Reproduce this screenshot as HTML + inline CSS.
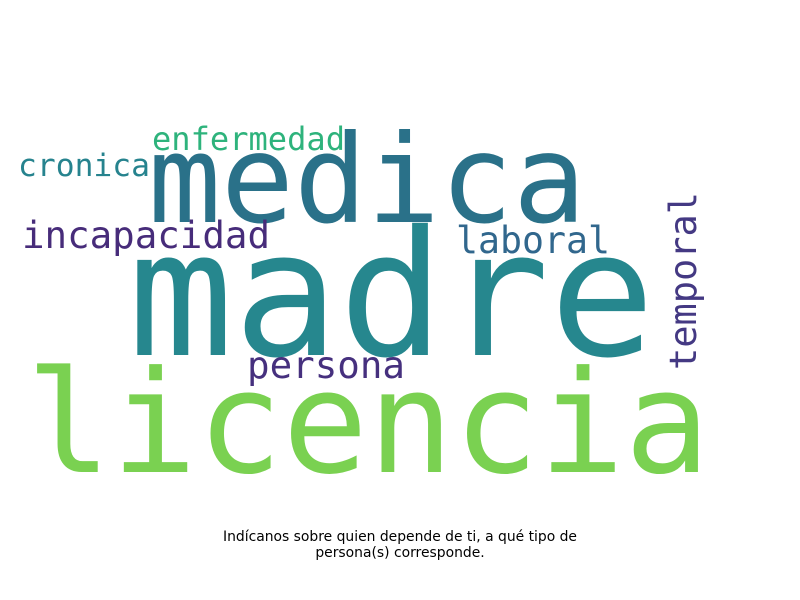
<!DOCTYPE html>
<html><head><meta charset="utf-8"><style>
html,body{margin:0;padding:0;background:#fff;}
svg{display:block;}
.w{font-family:"DejaVu Sans Mono","Liberation Mono",monospace;}
.cap{font-family:"DejaVu Sans","Liberation Sans",sans-serif;font-size:13.9px;fill:#000;}
</style></head><body>
<svg width="800" height="600" viewBox="0 0 800 600">
<rect width="800" height="600" fill="#fff"/>
<g>
<text class="w" x="128" y="355" font-size="174" fill="#26878e" textLength="527" lengthAdjust="spacingAndGlyphs">madre</text>
<text class="w" x="26" y="472" font-size="142" fill="#7ad151" textLength="684" lengthAdjust="spacingAndGlyphs">licencia</text>
<text class="w" x="148" y="222" font-size="122" fill="#2a7189" textLength="438" lengthAdjust="spacingAndGlyphs">medica</text>
<text class="w" x="152" y="150" font-size="32" fill="#2eb37c" textLength="193" lengthAdjust="spacingAndGlyphs">enfermedad</text>
<text class="w" x="18" y="176" font-size="31" fill="#26838e" textLength="132" lengthAdjust="spacingAndGlyphs">cronica</text>
<text class="w" x="22" y="248" font-size="37" fill="#472c7a" textLength="248" lengthAdjust="spacingAndGlyphs">incapacidad</text>
<text class="w" x="456" y="253" font-size="37" fill="#31678d" textLength="154" lengthAdjust="spacingAndGlyphs">laboral</text>
<text class="w" x="247" y="378" font-size="37" fill="#46307e" textLength="158" lengthAdjust="spacingAndGlyphs">persona</text>
<text class="w" x="0" y="0" font-size="37" fill="#443983" textLength="178" lengthAdjust="spacingAndGlyphs" transform="translate(696,370) rotate(-90)">temporal</text>
</g>
<text class="cap" x="400" y="541" text-anchor="middle">Indícanos sobre quien depende de ti, a qué tipo de</text>
<text class="cap" x="400" y="557" text-anchor="middle">persona(s) corresponde.</text>
</svg>
</body></html>
